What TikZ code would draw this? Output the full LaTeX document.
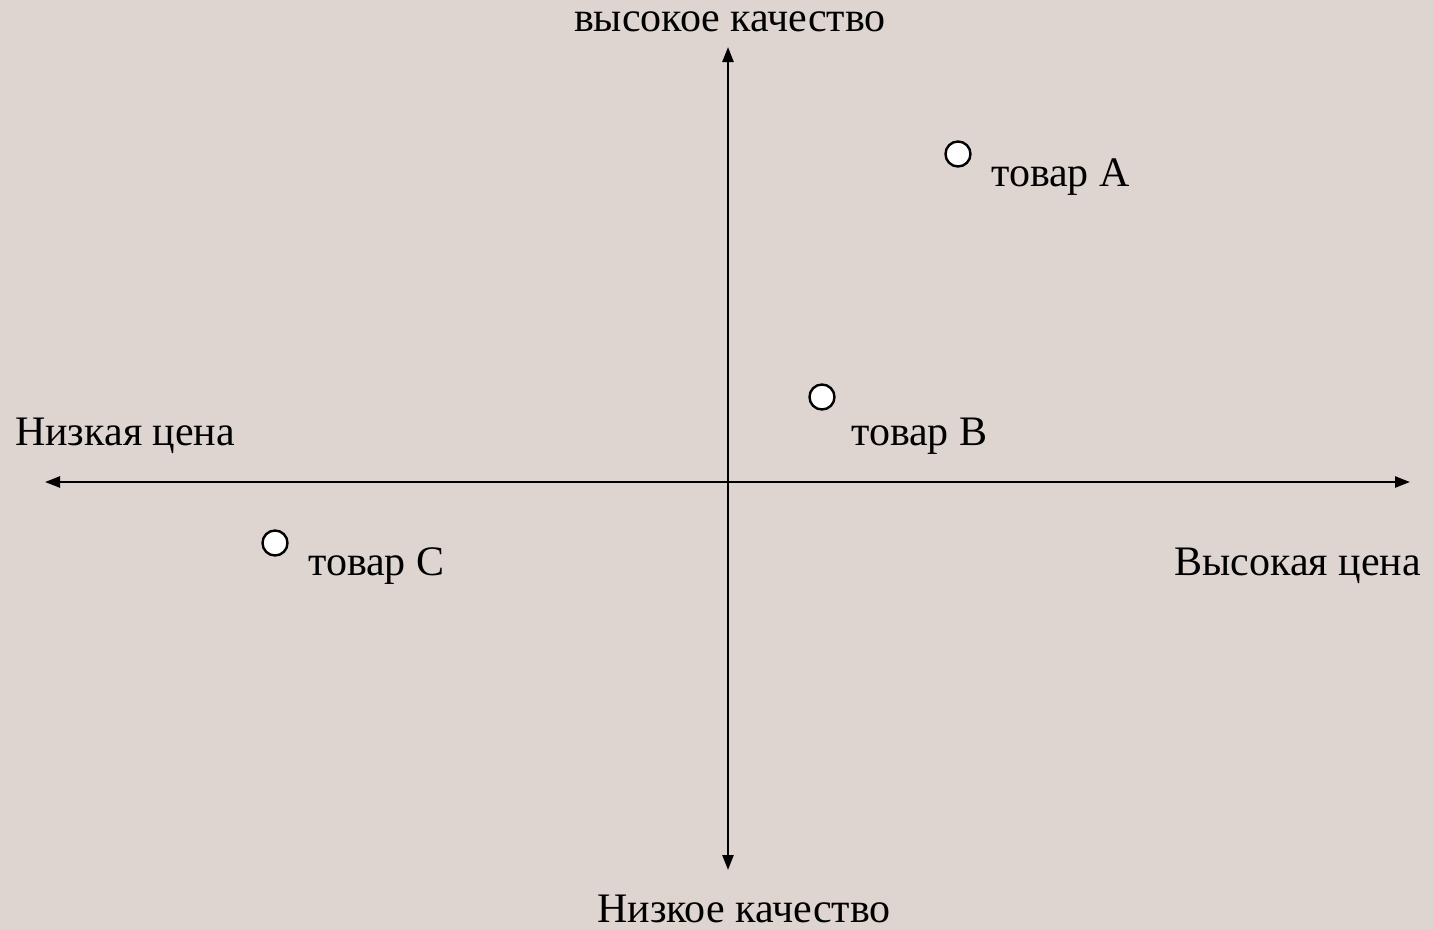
\documentclass[tikz,border=0pt]{standalone}
\usepackage{fontspec}
\setmainfont{Liberation Serif}
\usetikzlibrary{arrows.meta}
\definecolor{bgc}{RGB}{222,213,209}
\begin{document}
\begin{tikzpicture}[x=1pt,y=-1pt,
  axis/.style={line width=2.4pt,{Triangle[length=15pt,width=11pt]}-{Triangle[length=15pt,width=11pt]}},
  lbl/.style={inner sep=0pt,font=\fontsize{42}{48}\selectfont},
  pt/.style={circle,draw,line width=2.4pt,fill=white,minimum size=25pt,inner sep=0pt}]
\fill[bgc] (0,0) rectangle (1433,929);
\useasboundingbox (0,0) rectangle (1433,929);
\coordinate (L) at (45,482);
\coordinate (R) at (1410,482);
\coordinate (T) at (728,47);
\coordinate (B) at (728,870);
\draw[axis] (L) -- (R);
\draw[axis] (T) -- (B);
\node[lbl,anchor=base] (hq) at (730,31) {высокое качество};
\node[lbl,anchor=base] (lq) at (744,922) {Низкое качество};
\node[lbl,anchor=base west] (lp) at (15,445) {Низкая цена};
\node[lbl,anchor=base east] (hp) at (1421,575) {Высокая цена};
\node[pt] (a) at (958,154) {};
\node[pt] (b) at (822,397) {};
\node[pt] (c) at (275,543) {};
\node[lbl,anchor=base west] (ta) at (991,186) {товар A};
\node[lbl,anchor=base west] (tb) at (851,445) {товар B};
\node[lbl,anchor=base west] (tc) at (308,575) {товар C};
\end{tikzpicture}
\end{document}
